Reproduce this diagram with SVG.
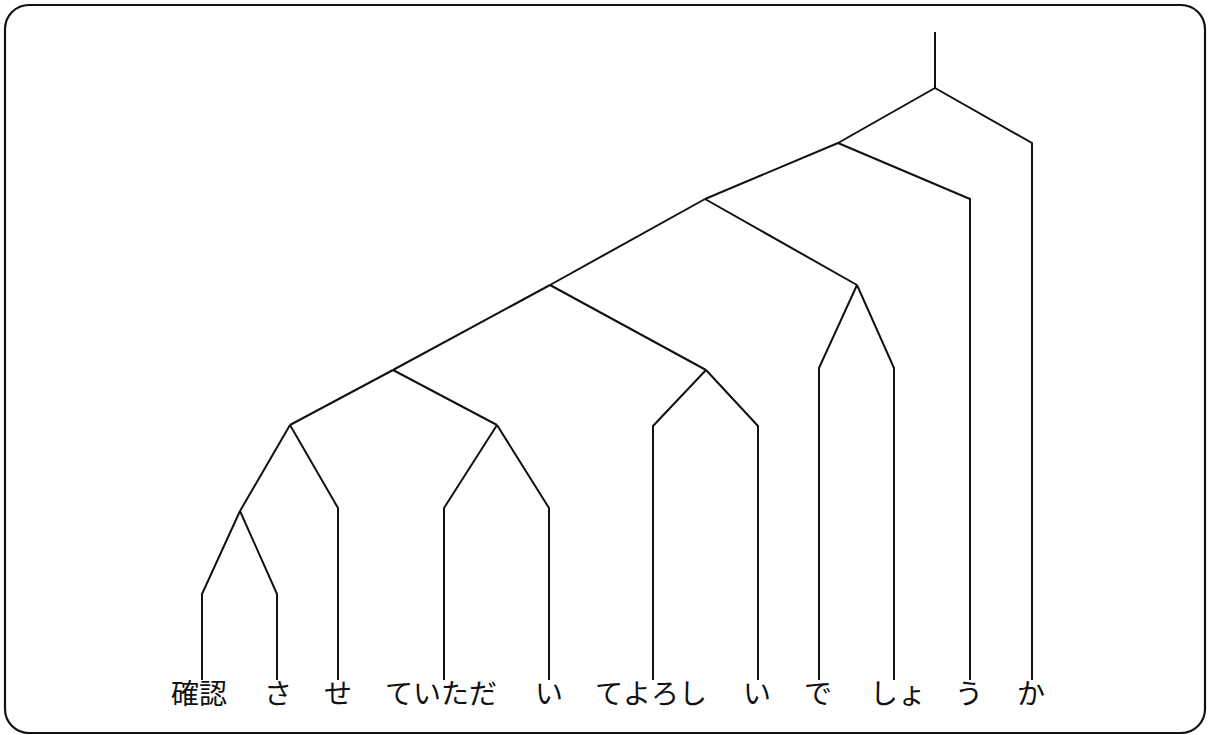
<svg xmlns="http://www.w3.org/2000/svg" width="1210" height="735" viewBox="0 0 1210 735">
<style>
.frame{fill:none;stroke:#111;stroke-width:2.2}
.br{fill:none;stroke:#111;stroke-width:2;stroke-linejoin:miter}
.w{font-family:"Noto Sans CJK JP","Noto Sans CJK SC",sans-serif;font-size:28px;fill:#111}
</style>
<rect width="1210" height="735" fill="#fff"/>
<rect class="frame" x="5" y="5" width="1200" height="728" rx="24" ry="24"/>
<g id="connectors">
<path class="br" d="M935,32 V88"/>
<path class="br" d="M935,88 L838,143"/>
<path class="br" d="M935,88 L1032,143 V600"/>
<path class="br" d="M838,143 L705,199"/>
<path class="br" d="M838,143 L970,199 V600"/>
<path class="br" d="M705,199 L550,285"/>
<path class="br" d="M705,199 L857,285"/>
<path class="br" d="M857,285 L819,368 V600"/>
<path class="br" d="M857,285 L894,368 V600"/>
<path class="br" d="M550,285 L393,370"/>
<path class="br" d="M550,285 L706,370"/>
<path class="br" d="M706,370 L653,426 V600"/>
<path class="br" d="M706,370 L758,426 V600"/>
<path class="br" d="M393,370 L290,425"/>
<path class="br" d="M393,370 L497,425"/>
<path class="br" d="M497,425 L444,508 V600"/>
<path class="br" d="M497,425 L549,508 V600"/>
<path class="br" d="M290,425 L240,511"/>
<path class="br" d="M290,425 L338,508 V600"/>
<path class="br" d="M240,511 L202,594 V680"/>
<path class="br" d="M240,511 L277,594 V680"/>
<path class="br" d="M338,600 V680 M444,600 V680 M549,600 V680 M653,600 V680 M758,600 V680 M819,600 V680 M894,600 V680 M970,600 V680 M1032,600 V680"/>
</g>
<g id="n1"><text class="w" x="171" y="704">確認</text></g>
<g id="n2"><text class="w" x="278" y="704" text-anchor="middle">さ</text></g>
<g id="n3"><text class="w" x="338" y="704" text-anchor="middle">せ</text></g>
<g id="n4"><text class="w" x="385" y="704">ていただ</text></g>
<g id="n5"><text class="w" x="549" y="704" text-anchor="middle">い</text></g>
<g id="n6"><text class="w" x="595" y="704">てよろし</text></g>
<g id="n7"><text class="w" x="757" y="704" text-anchor="middle">い</text></g>
<g id="n8"><text class="w" x="818" y="704" text-anchor="middle">で</text></g>
<g id="n9"><text class="w" x="870" y="704">しょ</text></g>
<g id="n10"><text class="w" x="969" y="704" text-anchor="middle">う</text></g>
<g id="n11"><text class="w" x="1031" y="704" text-anchor="middle">か</text></g>
</svg>
